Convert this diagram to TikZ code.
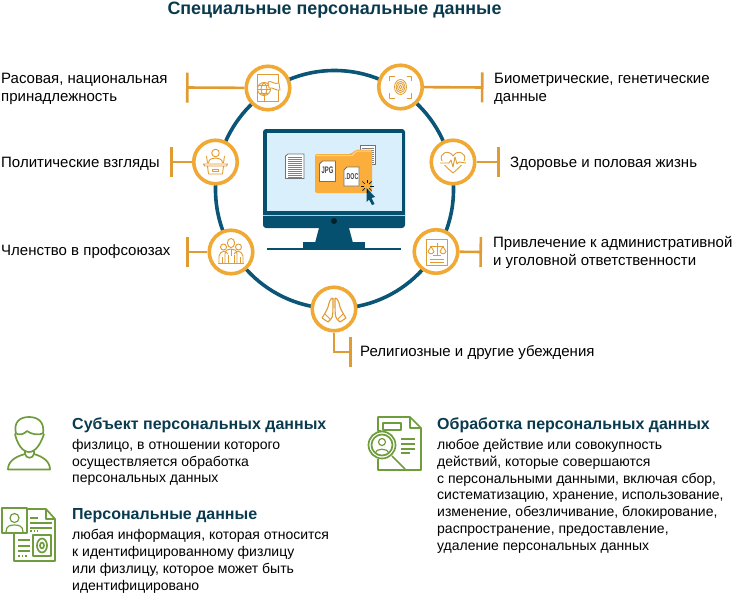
\documentclass[tikz,border=0pt]{standalone}
\usepackage{xcolor}
\usepackage{fontspec}
\setmainfont{Liberation Sans}
\usetikzlibrary{calc,arrows.meta}
\definecolor{ringblue}{HTML}{0B5576}
\definecolor{monblue}{HTML}{05506F}
\definecolor{screenblue}{HTML}{DAEFFC}
\definecolor{iconorange}{HTML}{F0A935}
\definecolor{stemorange}{HTML}{E09B32}
\definecolor{folderorange}{HTML}{FBAE3C}
\definecolor{titleblue}{HTML}{0A3A4E}
\definecolor{leafgreen}{HTML}{6F9C3C}
\tikzset{
    iconring/.style={circle,draw=iconorange,fill=white,line width=3.6pt,minimum size=43.5pt,inner sep=0pt},
    stem/.style={draw=stemorange,line width=2.6pt},
    thin icon/.style={draw=stemorange,line width=0.9pt,line join=round},
    leaf/.style={draw=leafgreen,line width=1.7pt,line join=round},
    label/.style={anchor=west,align=left,inner sep=0pt,font=\fontsize{15}{18}\selectfont},
    head/.style={anchor=west,inner sep=0pt,text=titleblue,font=\fontsize{16}{17}\selectfont\bfseries},
    body/.style={anchor=north west,align=left,inner sep=0pt,font=\fontsize{14}{16.8}\selectfont},
    page/.style={draw=gray!90!black,fill=white,line width=0.8pt}
}
\begin{document}
\begin{tikzpicture}[x=1pt,y=-1pt]
    \useasboundingbox (0,0) rectangle (735,594);
    \node[anchor=center,inner sep=0pt,text=titleblue,font=\fontsize{17.9}{20}\selectfont\bfseries] (title) at (334.5,10) {Специальные персональные данные};
    \node[circle,draw=ringblue,line width=3.6pt,minimum size=238pt,inner sep=0pt] (ring) at (334.5,189.5) {};
    % monitor
    \fill [monblue,rounded corners=3pt] (263,129) rectangle (405,228);
    \fill [screenblue] (266.5,133) rectangle (401.5,211);
    \draw [white!70!monblue,line width=0.5pt] (263,215) -- (405,215);
    \fill [black!60!monblue] (334,221) circle (3);
    \fill [monblue] (319,228) -- (349,228) -- (353,243) -- (315,243) -- cycle;
    \fill [monblue] (303,242) rectangle (365,248);
    \fill [monblue] (267,248) rectangle (401,250);
    % files
    \draw [page] (360,145.5) rectangle (375.5,164);
    \foreach \y in {148,150,...,162} {\draw [gray,line width=0.8pt] (362,\y) -- (374,\y);}
    \draw [page] (285.5,156) -- (288,154) -- (304,154) -- (304,178.5) -- (285.5,178.5) -- cycle;
    \foreach \y in {157,159,...,177} {\draw [gray,line width=0.9pt] (288,\y) -- (302,\y);}
    \fill [folderorange,rounded corners=2pt] (315,154) -- (351,154) -- (356,149.5) -- (372,149.5) -- (372,193) -- (315,193) -- cycle;
    \draw [white!45!folderorange,line width=1pt] (316,155.5) -- (352,155.5) -- (357,151) -- (371,151);
    \draw [page] (319.5,164) -- (322.5,161) -- (335.5,161) -- (335.5,181.5) -- (319.5,181.5) -- cycle;
    \node[inner sep=0pt,font=\fontsize{9.5}{10}\selectfont\bfseries,text=gray!50!black,xscale=0.62] (jpg) at (327.5,170.5) {JPG};
    \draw [page] (344,170) -- (347,167) -- (359,167) -- (359,186) -- (344,186) -- cycle;
    \node[inner sep=0pt,font=\fontsize{8.5}{9}\selectfont\bfseries,text=gray!50!black,xscale=0.62] (doc) at (351.8,176.5) {.DOC};
    \fill [monblue] (366.5,188) -- (375,197) -- (371.5,198) -- (374.5,204) -- (372,205) -- (369,199.5) -- (366.5,202) -- cycle;
    \foreach \a in {0,45,...,315} {\draw [black!70!monblue,line width=0.7pt] ($(367,186)+(\a:3)$) -- ($(367,186)+(\a:6.5)$);}
    % icons on the ring
    \node[iconring] (race) at (268,88) {};
    \node[iconring] (politics) at (215.5,162) {};
    \node[iconring] (union) at (231,252) {};
    \node[iconring] (faith) at (334,309) {};
    \node[iconring] (law) at (436,251.5) {};
    \node[iconring] (health) at (453,162) {};
    \node[iconring] (bio) at (400.5,87) {};
    \coordinate (racebar) at (186,87.5);
    \coordinate (politicsbar) at (170,162);
    \coordinate (unionbar) at (186,252);
    \coordinate (biobar) at (483.5,87.5);
    \coordinate (healthbar) at (499.5,162);
    \coordinate (lawbar) at (482,252);
    \coordinate (faithbar) at (351.5,352);
    \draw [stem,-{Bar[width=30pt,line width=2.6pt]}] (race) -- (racebar);
    \draw [stem,-{Bar[width=30pt,line width=2.6pt]}] (politics) -- (politicsbar);
    \draw [stem,-{Bar[width=30pt,line width=2.6pt]}] (union) -- (unionbar);
    \draw [stem,-{Bar[width=30pt,line width=2.6pt]}] (bio) -- (biobar);
    \draw [stem,-{Bar[width=30pt,line width=2.6pt]}] (health) -- (healthbar);
    \draw [stem,-{Bar[width=30pt,line width=2.6pt]}] (law) -- (lawbar);
    \draw [stem,-{Bar[width=30pt,line width=2.6pt]}] (faith) |- (faithbar);
    % glyphs
    \begin{scope}[shift={(race.center)}]
        \draw [thin icon] (-11,-14) rectangle (10,13);
        \draw [thin icon] (-4,1) circle (6.5);
        \draw [thin icon] (-4,-5.5) .. controls (-8,-2) and (-8,4) .. (-4,7.5) .. controls (0,4) and (0,-2) .. (-4,-5.5);
        \draw [thin icon] (-10.5,1) -- (2.5,1) (-9,-3) -- (1,-3) (-9,5) -- (1,5) (-4,7.5) -- (-4,13);
        \draw [thin icon,fill=white] (0,-6) .. controls (3,-8) and (6,-3) .. (11,-5) -- (12,2) .. controls (8,3) and (5,-1) .. (1,0) -- cycle;
    \end{scope}
    \begin{scope}[shift={(politics.center)}]
        \draw [thin icon] (0,-9) circle (3.8);
        \draw [thin icon] (-7,1) .. controls (-7,-3) and (-3,-4) .. (0,-4) .. controls (3,-4) and (7,-3) .. (7,1);
        \draw [thin icon] (-9,-6) -- (-8,1) (9,-6) -- (8,1);
        \draw [thin icon] (-12,2) -- (12,2) -- (11,4) -- (-11,4) -- cycle;
        \draw [thin icon] (-8,4) -- (-7,12) -- (7,12) -- (8,4);
        \draw [thin icon] (-3,7) rectangle (3,9);
    \end{scope}
    \begin{scope}[shift={(bio.center)}]
        \draw [thin icon] (-11,-6) -- (-11,-11) -- (-6,-11) (6,-11) -- (11,-11) -- (11,-6) (11,6) -- (11,11) -- (6,11) (-6,11) -- (-11,11) -- (-11,6);
        \foreach \r in {1.5,3,4.5,6} {\draw [thin icon,line width=0.8pt] (0,0) ellipse ({\r} and {\r*1.25});}
    \end{scope}
    \begin{scope}[shift={(health.center)}]
        \draw [thin icon] (-11,-1) .. controls (-15,-9) and (-4,-13) .. (0,-6) .. controls (4,-13) and (15,-9) .. (11,-1) .. controls (8,5) and (3,8) .. (0,11) .. controls (-3,8) and (-8,5) .. (-11,-1);
        \fill [white] (-14,-1) rectangle (14,3);
        \draw [thin icon] (-13,1) -- (-4,1) -- (-2,-2) -- (0,5) -- (2,-5) -- (4,2) -- (6,0) -- (13,1);
    \end{scope}
    \begin{scope}[shift={(law.center)}]
        \draw [thin icon] (-9.5,-12.5) rectangle (11,13.5);
        \draw [thin icon] (-6,-5) -- (8,-5) (1,-9) -- (1,3) (-3,4) -- (5,4);
        \draw [thin icon] (-8,0) .. controls (-7,3) and (-3,3) .. (-2,0) -- (-5,-5) -- cycle;
        \draw [thin icon] (4,0) .. controls (5,3) and (9,3) .. (10,0) -- (7,-5) -- cycle;
        \draw [thin icon] (-6,8) -- (8,8) (-6,11) -- (8,11);
    \end{scope}
    \begin{scope}[shift={(union.center)}]
        \draw [thin icon] (0,-9) ellipse (3.6 and 4.6);
        \draw [thin icon] (-7.5,-5) circle (3) (7.5,-5) circle (3);
        \draw [thin icon] (-12,11) -- (-12,4) .. controls (-12,1) and (-9,0) .. (-7,-1) .. controls (-5,0) and (-4,1) .. (-3,2);
        \draw [thin icon] (12,11) -- (12,4) .. controls (12,1) and (9,0) .. (7,-1) .. controls (5,0) and (4,1) .. (3,2);
        \draw [thin icon] (-6,11) -- (-6,2) .. controls (-6,-2) and (-3,-3) .. (0,-3) .. controls (3,-3) and (6,-2) .. (6,2) -- (6,11);
        \draw [thin icon] (-13,11) -- (13,11) (-9,5) -- (-9,11) (9,5) -- (9,11) (-3,3) -- (-3,11) (3,3) -- (3,11) (0,-3) -- (0,4);
    \end{scope}
    \begin{scope}[shift={(faith.center)}]
        \draw [thin icon,line width=1.1pt] (-1,-11) .. controls (-4,-11) and (-5,-6) .. (-6,-2) .. controls (-7,1) and (-10,6) .. (-12,9) -- (-6,13) -- (-3,10) .. controls (-1,8) and (-1,4) .. (-1,-11);
        \draw [thin icon,line width=1.1pt] (1,-11) .. controls (4,-11) and (5,-6) .. (6,-2) .. controls (7,1) and (10,6) .. (12,9) -- (6,13) -- (3,10) .. controls (1,8) and (1,4) .. (1,-11);
        \draw [thin icon] (-9,5) -- (-4,10) (9,5) -- (4,10);
    \end{scope}
    % labels
    \node[label] (racetext) at (1,88.8) {Расовая, национальная\\принадлежность};
    \node[label] (politicstext) at (1,163.5) {Политические взгляды};
    \node[label] (uniontext) at (1,252) {Членство в профсоюзах};
    \node[label] (biotext) at (494,88.8) {Биометрические, генетические\\данные};
    \node[label] (healthtext) at (510,163.5) {Здоровье и половая жизнь};
    \node[label] (lawtext) at (493,252.2) {Привлечение к административной\\и уголовной ответственности};
    \node[label] (faithtext) at (360,352.5) {Религиозные и другие убеждения};
    % lower part
    \draw [leaf] (16,434) .. controls (13,421) and (21,417) .. (29,417) .. controls (37,417) and (45,421) .. (43,434);
    \draw [leaf] (15,433) .. controls (20,436) and (24,434) .. (27,431) .. controls (31,434) and (38,436) .. (44,433);
    \draw [leaf] (15,434) .. controls (17,443) and (22,452) .. (29,452) .. controls (36,452) and (41,443) .. (44,434);
    \draw [leaf] (25,450) -- (25,454) .. controls (26,459) and (33,459) .. (34,454) -- (34,450);
    \draw [leaf] (25,454) .. controls (14,457) and (8,462) .. (8,469.5) -- (50,469.5) .. controls (50,462) and (44,457) .. (34,454);
    \draw [leaf] (2,508) rectangle (27,533);
    \draw [leaf] (27,509) -- (46,509) -- (55,519) -- (55,561) -- (14,561) -- (14,533);
    \draw [leaf] (46,509) -- (46,519) -- (55,519);
    \draw [leaf,line width=1.2pt] (14.5,518) circle (4.5);
    \draw [leaf,line width=1.2pt] (6,532) .. controls (6,526) and (10,525) .. (14.5,525) .. controls (19,525) and (23,526) .. (23,532);
    \draw [leaf] (30,518) -- (38,518) (30,523) -- (52,523) (30,528) -- (52,528) (18,540) -- (30,540) (18,546) -- (30,546) (18,551) -- (30,551);
    \draw [leaf,dotted] (30,531) -- (38,531) (18,556) -- (27,556);
    \draw [leaf] (33,535) rectangle (51,556);
    \draw [leaf] (42,545.5) ellipse (2 and 3) (42,545.5) ellipse (5 and 7);
    \draw [leaf] (381,431) -- (378,431) -- (378,417) -- (410,417) -- (421,428) -- (421,470) -- (378,470) -- (378,459);
    \draw [leaf] (410,417) -- (410,428) -- (421,428);
    \draw [leaf] (383,423) rectangle (401,430);
    \draw [leaf] (401,439) -- (415,439) (401,444) -- (415,444) (401,449) -- (415,449) (401,453) -- (410,453);
    \draw [leaf,fill=white] (382,445) circle (13.5);
    \draw [leaf] (382,445) circle (10.5);
    \draw [leaf] (392,456) -- (405,469);
    \draw [leaf,line width=1.2pt] (382,442) circle (3.5);
    \draw [leaf,line width=1.2pt] (375,453) .. controls (376,448) and (388,448) .. (389,453);
    \node[head] (subject) at (72,425.5) {Субъект персональных данных};
    \node[body] (subjecttext) at (72,439) {физлицо, в отношении которого\\осуществляется обработка\\персональных данных};
    \node[head] (pdata) at (72,515.5) {Персональные данные};
    \node[body] (pdatatext) at (72,529.2) {любая информация, которая относится\\к идентифицированному физлицу\\или физлицу, которое может быть\\идентифицировано};
    \node[head] (proc) at (437,425.5) {Обработка персональных данных};
    \node[body] (proctext) at (437,439) {любое действие или совокупность\\действий, которые совершаются\\с персональными данными, включая сбор,\\систематизацию, хранение, использование,\\изменение, обезличивание, блокирование,\\распространение, предоставление,\\удаление персональных данных};
\end{tikzpicture}
\end{document}
